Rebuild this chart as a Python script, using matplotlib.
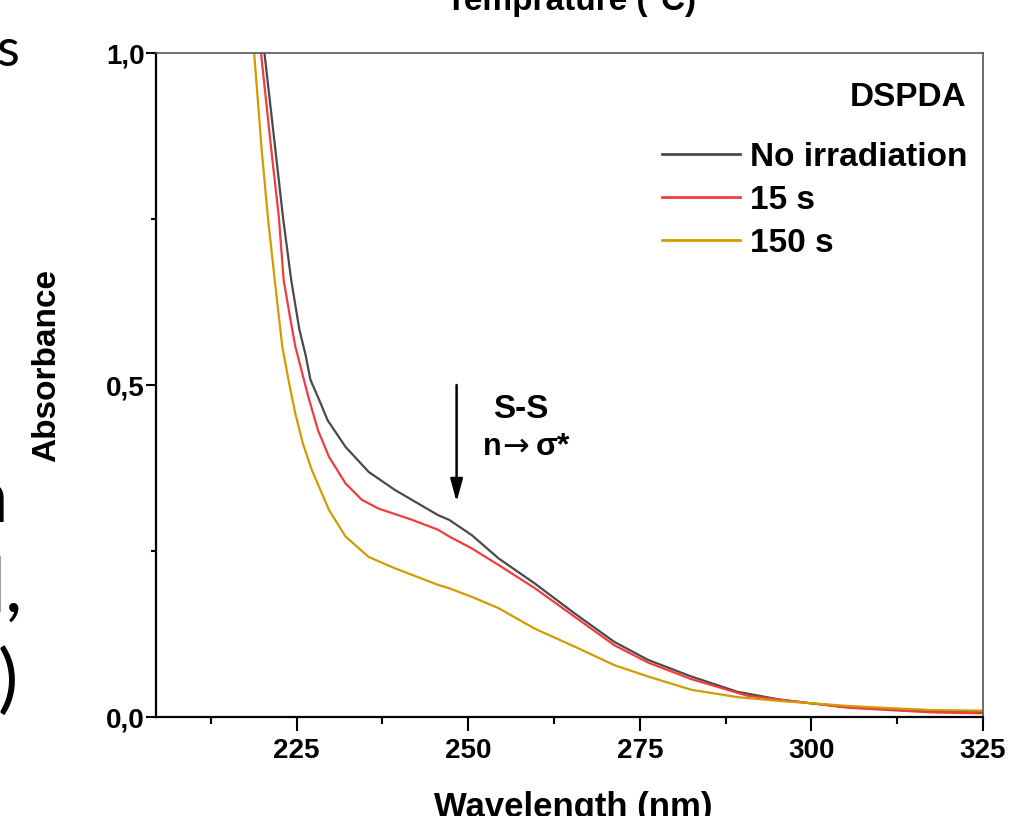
import matplotlib
matplotlib.use("Agg")
from matplotlib import pyplot as plt
from matplotlib.ticker import FixedLocator, FixedFormatter

# UV-Vis spectra of DSPDA
wl_none = [219.8, 220.3, 221.9, 223.0, 224.2, 225.4, 226.3, 227.0, 228.3, 229.5, 232.1,
           235.5, 239.3, 245.6, 247.2, 250.5, 254.4, 259.7, 265.5, 271.3, 276.2, 282.5,
           289.2, 295.5, 299.6, 305.3, 312.1, 317.4, 325.0]
abs_none = [1.05, 1.0, 0.854, 0.753, 0.658, 0.583, 0.545, 0.508, 0.477, 0.447, 0.407,
            0.369, 0.342, 0.304, 0.297, 0.274, 0.239, 0.201, 0.156, 0.113, 0.086, 0.061,
            0.038, 0.026, 0.021, 0.015, 0.012, 0.009, 0.0075]

wl_15s = [219.3, 219.8, 221.3, 222.4, 223.1, 224.1, 224.8, 226.7, 228.1, 229.7, 232.1,
          234.5, 236.9, 241.8, 245.6, 247.2, 250.5, 254.4, 259.7, 265.5, 271.3, 276.2,
          282.5, 290.7, 299.6, 305.3, 312.1, 317.4, 325.0]
abs_15s = [1.05, 1.0, 0.854, 0.753, 0.658, 0.598, 0.558, 0.482, 0.432, 0.392, 0.352,
           0.327, 0.314, 0.297, 0.282, 0.272, 0.254, 0.229, 0.194, 0.151, 0.108, 0.082,
           0.057, 0.032, 0.021, 0.014, 0.010, 0.007, 0.0055]

wl_150s = [218.4, 218.8, 219.9, 220.8, 221.8, 222.9, 223.8, 224.8, 225.9, 227.2, 229.7,
           232.1, 235.5, 239.3, 245.6, 247.2, 250.5, 254.4, 259.7, 265.5, 271.3, 276.2,
           282.5, 289.2, 295.5, 299.6, 305.3, 312.1, 317.4, 325.0]
abs_150s = [1.05, 1.0, 0.854, 0.753, 0.658, 0.558, 0.508, 0.457, 0.412, 0.372, 0.312,
            0.272, 0.241, 0.224, 0.199, 0.194, 0.181, 0.164, 0.133, 0.106, 0.078, 0.061,
            0.041, 0.030, 0.024, 0.021, 0.0166, 0.013, 0.0105, 0.0095]

labels = ["No irradiation", "15 s", "150 s"]
colors = ["#4a4a4a", "#f03c3c", "#d29c00"]

x_ticks = [225, 250, 275, 300, 325]
x_minor = [212.5, 237.5, 262.5, 287.5, 312.5]
y_ticks = [0.0, 0.5, 1.0]
y_tick_labels = ["0,0", "0,5", "1,0"]
y_minor = [0.25, 0.75]

arrow_wl = 248.3
arrow_from = 0.50
arrow_to = 0.324

W, H = 1011, 816
plt.rcParams["font.family"] = ["Liberation Sans", "DejaVu Sans"]
plt.rcParams["font.weight"] = "bold"

fig = plt.figure(figsize=(W / 100, H / 100), dpi=100)
ax = fig.add_axes([156 / W, 1 - 717 / H, (983 - 156) / W, (717 - 53) / H])

ax.plot(wl_none, abs_none, color=colors[0], lw=1.6, label=labels[0])
ax.plot(wl_15s, abs_15s, color=colors[1], lw=1.6, label=labels[1])
ax.plot(wl_150s, abs_150s, color=colors[2], lw=1.6, label=labels[2])

ax.set_xlim(204.5, 325)
ax.set_ylim(0, 1.0)

ax.xaxis.set_major_locator(FixedLocator(x_ticks))
ax.xaxis.set_minor_locator(FixedLocator(x_minor))
ax.yaxis.set_major_locator(FixedLocator(y_ticks))
ax.yaxis.set_major_formatter(FixedFormatter(y_tick_labels))
ax.yaxis.set_minor_locator(FixedLocator(y_minor))

ax.tick_params(axis="x", which="major", direction="out", length=10, width=1.5, pad=5, labelsize=20)
ax.tick_params(axis="x", which="minor", direction="out", length=5, width=1.5)
ax.tick_params(axis="y", which="major", direction="out", length=7, width=1.5, pad=1, labelsize=20)
ax.tick_params(axis="y", which="minor", direction="out", length=3.5, width=1.5)

for side in ["left", "bottom"]:
    ax.spines[side].set_linewidth(1.6)
    ax.spines[side].set_color("black")
for side in ["top", "right"]:
    ax.spines[side].set_linewidth(1.2)
    ax.spines[side].set_color("#555555")

# arrow + assignment of the S-S band
ax.annotate("", xy=(arrow_wl, arrow_to), xytext=(arrow_wl, arrow_from),
            arrowprops=dict(arrowstyle="-|>,head_length=0.55,head_width=0.15",
                            color="black", lw=1.8, mutation_scale=25,
                            shrinkA=0, shrinkB=0))
fig.text(521 / W, 1 - 410 / H, "S-S", fontsize=24, ha="center", va="center")
fig.text(483 / W, 1 - 455 / H, "n", fontsize=22, ha="left", va="baseline")
fig.text(502 / W, 1 - 455 / H, "\u2192", fontsize=23, ha="left", va="baseline",
         family=["DejaVu Sans"], weight="normal")
fig.text(536 / W, 1 - 455 / H, "\u03c3*", fontsize=23, ha="left", va="baseline")

leg = ax.legend(loc="upper right", bbox_to_anchor=(968 / W, 1 - 142 / H),
                bbox_transform=fig.transFigure, frameon=False, fontsize=24,
                handlelength=2.34, handletextpad=0.33, labelspacing=0.36,
                borderpad=0, borderaxespad=0)
for line in leg.get_lines():
    line.set_linewidth(2)
fig.text(967 / W, 1 - 98 / H, "DSPDA", fontsize=24, ha="right", va="center")

# axis titles (cut by the edges of the picture, as in the screenshot)
fig.text(47 / W, 1 - 365 / H, "Absorbance", fontsize=24, rotation=90, ha="center", va="center")
fig.text(573 / W, 1 - 817 / H, "Wavelength (nm)", fontsize=25, ha="center", va="baseline")
fig.text(571 / W, 1 - 10 / H, "Temprature (\u00b0C)", fontsize=24, ha="center", va="baseline")

# pieces of a neighbouring slide text on the left edge
side_font = dict(family=["Lato", "DejaVu Sans"], weight="normal", ha="right", va="baseline")
fig.text(19 / W, 1 - 66 / H, "s", fontsize=38, **side_font)
fig.text(8 / W, 1 - 522 / H, "n", fontsize=55, **side_font)
fig.text(23 / W, 1 - 612 / H, "l,", fontsize=55, **side_font)
fig.text(18 / W, 1 - 704 / H, ")", fontsize=55, **side_font)

plt.savefig("out.png", dpi=100)
